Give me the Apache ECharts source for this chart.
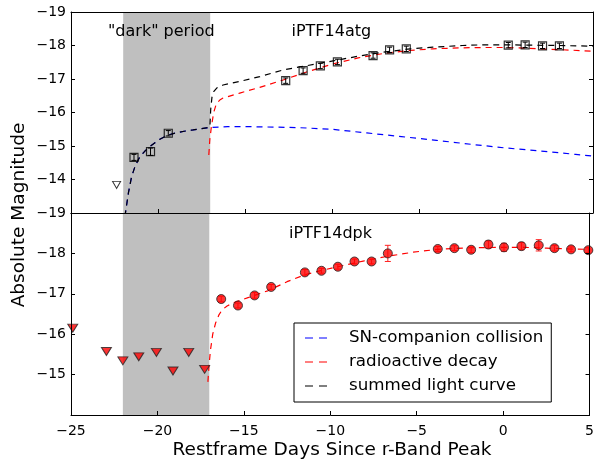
<!DOCTYPE html>
<html><head><meta charset="utf-8">
<script src="https://cdn.jsdelivr.net/npm/echarts@6/dist/echarts.min.js"></script>
<style>html,body{margin:0;padding:0;background:#fff}#c{width:597px;height:459px}</style>
</head><body><div id="c"></div>
<script>
// ---------- data ----------
const xTickMin = -25, xTickMax = 5;
// iPTF14atg detections
const atgX = [-21.38,-20.43,-19.41,-12.66,-11.66,-10.67,-9.69,-7.64,-6.69,-5.73,0.13,1.10,2.10,3.07];
const atgY = [-14.66,-14.83,-15.38,-16.95,-17.25,-17.39,-17.51,-17.70,-17.87,-17.90,-18.01,-18.02,-17.99,-17.99];
const atgErr = [0.09,0.11,0.08,0.08,0.08,0.08,0.08,0.08,0.08,0.08,0.08,0.08,0.08,0.08];
// iPTF14atg upper limit
const atgLimX = [-22.38];
const atgLimY = [-13.84];
// iPTF14atg model curves
const blueX = [-21.9,-21.7,-21.52,-21.3,-21.04,-20.75,-20.47,-20.0,-19.51,-19.0,-18.5,-17.98,-17.5,-16.98,-16.0,-15.0,-14.0,-12.0,-10.0,-8.0,-6.0,-4.0,-2.0,0.0,2.0,4.0,5.0];
const blueY = [-12.9,-13.6,-14.08,-14.42,-14.68,-14.85,-14.98,-15.17,-15.31,-15.39,-15.44,-15.48,-15.52,-15.55,-15.58,-15.58,-15.57,-15.55,-15.50,-15.39,-15.28,-15.17,-15.05,-14.94,-14.85,-14.75,-14.70];
const sumX = [-21.9,-21.7,-21.52,-21.3,-21.04,-20.75,-20.47,-20.0,-19.51,-19.0,-18.5,-17.98,-17.5,-17.02,-16.97,-16.9,-16.8,-16.6,-16.26,-15.3,-14.15,-12.81,-11.0,-9.94,-8.5,-7.07,-5.5,-4.2,-2.5,-1.33,0.0,1.5,3.0,5.0];
const sumY = [-12.9,-13.6,-14.08,-14.42,-14.68,-14.85,-14.98,-15.17,-15.31,-15.39,-15.44,-15.48,-15.52,-15.56,-16.1,-16.45,-16.62,-16.74,-16.82,-16.93,-17.07,-17.27,-17.44,-17.54,-17.68,-17.80,-17.90,-17.95,-18.00,-18.02,-18.02,-18.01,-18.00,-17.98];
const redTopX = [-17.08,-17.02,-16.93,-16.8,-16.64,-16.45,-16.26,-15.3,-14.15,-12.81,-11.4,-9.94,-8.5,-7.07,-5.6,-4.2,-2.7,-1.33,0.0,1.2,2.5,3.8,5.0];
const redTopY = [-14.73,-15.2,-15.58,-16.0,-16.27,-16.37,-16.43,-16.58,-16.75,-16.97,-17.22,-17.45,-17.63,-17.76,-17.85,-17.90,-17.93,-17.94,-17.94,-17.92,-17.89,-17.86,-17.83];
// iPTF14dpk detections
const dpkX = [-16.31,-15.34,-14.38,-13.42,-11.47,-10.51,-9.56,-8.60,-7.61,-6.67,-3.78,-2.82,-1.85,-0.85,0.05,1.06,2.06,2.97,3.93,4.93];
const dpkY = [-16.87,-16.71,-16.96,-17.17,-17.53,-17.57,-17.67,-17.80,-17.80,-18.00,-18.11,-18.13,-18.09,-18.22,-18.15,-18.18,-18.20,-18.13,-18.10,-18.08];
const dpkErr = [0.07,0.06,0.07,0.06,0.07,0.06,0.06,0.06,0.06,0.2,0.06,0.06,0.07,0.09,0.1,0.09,0.14,0.07,0.06,0.06];
// iPTF14dpk upper limits
const dpkLimX = [-24.9,-22.95,-22.0,-21.08,-20.06,-19.10,-18.19,-17.27];
const dpkLimY = [-16.15,-15.57,-15.34,-15.44,-15.55,-15.09,-15.55,-15.13];
// iPTF14dpk radioactive model
const redBotX = [-17.08,-17.02,-16.93,-16.8,-16.64,-16.44,-16.26,-15.97,-15.53,-14.72,-13.58,-12.5,-11.47,-10.5,-9.56,-8.1,-6.67,-5.2,-3.78,-2.0,0.0,1.2,2.5,3.8,5.0];
const redBotY = [-14.82,-15.2,-15.61,-16.0,-16.27,-16.48,-16.6,-16.7,-16.79,-16.91,-17.08,-17.3,-17.47,-17.58,-17.67,-17.81,-17.93,-18.03,-18.10,-18.14,-18.15,-18.15,-18.13,-18.11,-18.10];
// dark period
const darkStart = -22, darkEnd = -17;
const legendNames = ['SN-companion collision','radioactive decay','summed light curve'];
const legendColors = ['#0000ff','#ff0000','#000000'];

// ---------- helpers ----------
const zip = (xs, ys) => xs.map((x, i) => [x, ys[i]]);
const zip3 = (xs, ys, es) => xs.map((x, i) => [x, ys[i], es[i]]);
const FONT = 'DejaVu Sans';
const fmt = v => (v < 0 ? '\u2212' : '') + Math.abs(v);
const dash = [6, 5];

function errRender(color, cap) {
  return function (params, api) {
    const x = api.value(0), y = api.value(1), e = api.value(2);
    const p1 = api.coord([x, y - e]), p2 = api.coord([x, y + e]);
    const st = {stroke: color, lineWidth: 1};
    return {type: 'group', children: [
      {type: 'line', shape: {x1: p1[0], y1: p1[1], x2: p2[0], y2: p2[1]}, style: st},
      {type: 'line', shape: {x1: p1[0] - cap, y1: p1[1], x2: p1[0] + cap, y2: p1[1]}, style: st},
      {type: 'line', shape: {x1: p2[0] - cap, y1: p2[1], x2: p2[0] + cap, y2: p2[1]}, style: st}
    ]};
  };
}

const axLine = {show: true, onZero: false, lineStyle: {color: '#000', width: 1}};
function xAx(gi, showLabels) {
  return {type: 'value', gridIndex: gi, position: 'bottom', min: xTickMin, max: xTickMax, interval: 5, z: 10,
    axisLine: axLine, axisTick: {show: true, inside: true, length: 4, lineStyle: {color: '#000'}},
    axisLabel: {show: showLabels, formatter: fmt, color: '#000', fontFamily: FONT, fontSize: 14, margin: 9},
    splitLine: {show: false}};
}
function xAxTop(gi) {
  return {type: 'value', gridIndex: gi, position: 'top', min: xTickMin, max: xTickMax, interval: 5, z: 10,
    axisLine: axLine, axisTick: {show: false}, axisLabel: {show: false}, splitLine: {show: false}};
}
function yAx(gi, mn, mx, hide, pos) {
  return {type: 'value', gridIndex: gi, min: mn, max: mx, interval: 1, inverse: true, position: pos, z: 10,
    axisLine: axLine, axisTick: {show: true, inside: true, length: 4, lineStyle: {color: '#000'}},
    axisLabel: {show: pos === 'left', color: '#000', fontFamily: FONT, fontSize: 14, margin: 5,
      formatter: v => (hide.indexOf(v) >= 0 ? '' : fmt(v))},
    splitLine: {show: false}};
}

const darkArea = {silent: true, itemStyle: {color: '#bfbfbf', opacity: 1},
  data: [[{xAxis: darkStart}, {xAxis: darkEnd}]]};

// legend layout (box + rows); sample dashes drawn at the legend rows
const LEG_LEFT = 294, LEG_TOP = 323, LEG_PADT = 6, ROW_H = 17, ROW_GAP = 7;
const legendSamples = legendNames.map((n, i) => {
  const y = LEG_TOP + LEG_PADT + ROW_H / 2 + i * (ROW_H + ROW_GAP) + 0.5;
  return {type: 'line', z: 100, zlevel: 0,
    shape: {x1: LEG_LEFT + 11, y1: y, x2: LEG_LEFT + 33, y2: y},
    style: {stroke: legendColors[i], lineWidth: 1.2, lineDash: [8, 6]}};
});

const chart = echarts.init(document.getElementById('c'), null, {renderer: 'canvas'});
chart.setOption({
  animation: false,
  backgroundColor: '#fff',
  grid: [
    {left: 71, top: 12, width: 522, height: 201},
    {left: 71, top: 213, width: 522, height: 202}
  ],
  xAxis: [xAx(0, false), xAx(1, true), xAxTop(0), xAxTop(1)],
  yAxis: [yAx(0, -19, -13, [-13], 'left'), yAx(1, -19, -14, [-14], 'left'),
          yAx(0, -19, -13, [], 'right'), yAx(1, -19, -14, [], 'right')],
  legend: {
    left: LEG_LEFT, top: LEG_TOP, orient: 'vertical', selectedMode: false, z: 50,
    backgroundColor: '#fff', borderColor: '#000', borderWidth: 1, borderRadius: 0,
    padding: [LEG_PADT, 8, 8, 11], itemGap: ROW_GAP, itemWidth: 22, itemHeight: 1.5,
    formatter: n => '{g| }' + n,
    textStyle: {fontFamily: FONT, fontSize: 16.7, color: '#000', lineHeight: ROW_H,
      rich: {g: {width: 17, fontSize: 16.7, lineHeight: ROW_H}}},
    data: legendNames.map((n, i) => ({name: n, icon: 'rect',
      itemStyle: {color: 'rgba(0,0,0,0)', opacity: 0, borderWidth: 0}}))
  },
  graphic: [
    {type: 'text', x: 108, y: 31.7, z: 20, style: {text: '"dark" period', font: '16px "DejaVu Sans"', fill: '#000', textVerticalAlign: 'middle'}},
    {type: 'text', x: 291.5, y: 31.7, z: 20, style: {text: 'iPTF14atg', font: '16px "DejaVu Sans"', fill: '#000', textVerticalAlign: 'middle'}},
    {type: 'text', x: 289, y: 234.3, z: 20, style: {text: 'iPTF14dpk', font: '16px "DejaVu Sans"', fill: '#000', textVerticalAlign: 'middle'}},
    {type: 'text', x: 19, y: 215, rotation: Math.PI / 2, z: 20,
      style: {text: 'Absolute Magnitude', font: '18.5px "DejaVu Sans"', fill: '#000', textAlign: 'center', textVerticalAlign: 'middle'}},
    {type: 'text', x: 332, y: 450, z: 20,
      style: {text: 'Restframe Days Since r-Band Peak', font: '18.5px "DejaVu Sans"', fill: '#000', textAlign: 'center', textVerticalAlign: 'middle'}}
  ].concat(legendSamples),
  series: [
    // shading
    {type: 'line', xAxisIndex: 0, yAxisIndex: 0, data: [], z: 1, markArea: darkArea},
    {type: 'line', xAxisIndex: 1, yAxisIndex: 1, data: [], z: 1, markArea: darkArea},
    // top curves
    {name: legendNames[0], type: 'line', xAxisIndex: 0, yAxisIndex: 0, data: zip(blueX, blueY), showSymbol: false, z: 2,
      color: '#0000ff', lineStyle: {color: '#0000ff', width: 1.2, type: dash}},
    {name: legendNames[1], type: 'line', xAxisIndex: 0, yAxisIndex: 0, data: zip(redTopX, redTopY), showSymbol: false, z: 2,
      color: '#ff0000', lineStyle: {color: '#ff0000', width: 1.2, type: dash}},
    {name: legendNames[2], type: 'line', xAxisIndex: 0, yAxisIndex: 0, data: zip(sumX, sumY), showSymbol: false, z: 3,
      color: '#000', lineStyle: {color: '#000', width: 1.2, type: dash}},
    // bottom curve
    {name: legendNames[1], type: 'line', xAxisIndex: 1, yAxisIndex: 1, data: zip(redBotX, redBotY), showSymbol: false, z: 2,
      color: '#ff0000', lineStyle: {color: '#ff0000', width: 1.2, type: dash}},
    // top error bars + markers
    {type: 'custom', xAxisIndex: 0, yAxisIndex: 0, data: zip3(atgX, atgY, atgErr), renderItem: errRender('#000', 2.5), z: 4, clip: true},
    {type: 'scatter', xAxisIndex: 0, yAxisIndex: 0, data: zip(atgX, atgY), symbol: 'rect', symbolSize: 8, z: 5,
      itemStyle: {color: 'rgba(0,0,0,0)', borderColor: '#000', borderWidth: 1.2}},
    {type: 'scatter', xAxisIndex: 0, yAxisIndex: 0, data: zip(atgLimX, atgLimY), symbol: 'triangle', symbolRotate: 180, symbolSize: [8, 7], z: 5,
      itemStyle: {color: '#fff', borderColor: '#000', borderWidth: 1}},
    // bottom error bars + markers
    {type: 'custom', xAxisIndex: 1, yAxisIndex: 1, data: zip3(dpkX, dpkY, dpkErr), renderItem: errRender('#ff2020', 3), z: 4, clip: true},
    {type: 'scatter', xAxisIndex: 1, yAxisIndex: 1, data: zip(dpkX, dpkY), symbol: 'circle', symbolSize: 9, z: 5,
      itemStyle: {color: '#ff0000', borderColor: '#222', borderWidth: 1}},
    {type: 'scatter', xAxisIndex: 1, yAxisIndex: 1, data: zip(dpkLimX, dpkLimY), symbol: 'triangle', symbolRotate: 180, symbolSize: [10, 8], z: 5,
      itemStyle: {color: '#ff0000', borderColor: '#222', borderWidth: 1}}
  ]
});
</script>
</body></html>
